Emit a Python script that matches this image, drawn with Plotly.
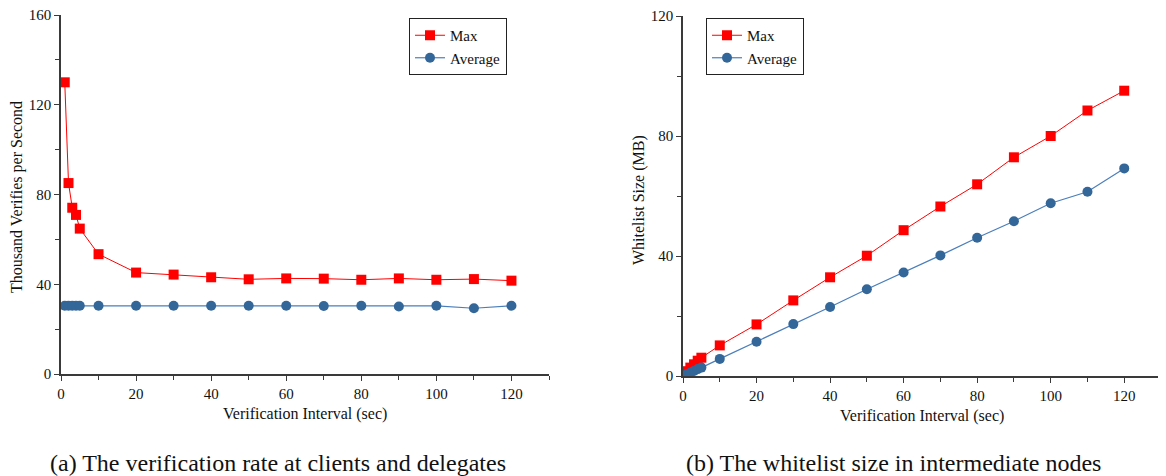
import plotly.graph_objects as go

# ---- data ----
interval = [1, 2, 3, 4, 5, 10, 20, 30, 40, 50, 60, 70, 80, 90, 100, 110, 120]

rate_max = [130.0, 85.1, 74.1, 70.9, 64.8, 53.4, 45.2, 44.3, 43.1, 42.2, 42.6, 42.5, 42.0, 42.6, 42.0, 42.3, 41.6]
rate_avg = [30.4, 30.4, 30.4, 30.4, 30.4, 30.4, 30.4, 30.4, 30.4, 30.4, 30.4, 30.3, 30.4, 30.1, 30.4, 29.3, 30.4]

wl_max = [1.6, 2.8, 3.9, 5.1, 6.1, 10.2, 17.2, 25.2, 32.9, 40.1, 48.6, 56.5, 63.9, 72.9, 80.0, 88.5, 95.1]
wl_avg = [0.6, 1.1, 1.7, 2.3, 2.8, 5.7, 11.4, 17.3, 23.0, 28.9, 34.5, 40.2, 46.1, 51.6, 57.6, 61.4, 69.2]

left_yticks = [0, 40, 80, 120, 160]
right_yticks = [0, 40, 80, 120]
xticks = [0, 20, 40, 60, 80, 100, 120]

series_names = ["Max", "Average"]
x_title = "Verification Interval (sec)"
left_ytitle = "Thousand Verifies per Second"
right_ytitle = "Whitelist Size (MB)"
captions = ["(a) The verification rate at clients and delegates",
            "(b) The whitelist size in intermediate nodes"]

RED = "#FF0000"
BLUE_M = "#336699"
BLUE_L = "#4A7EBB"
FONT = "Liberation Serif, Times New Roman, serif"
AXC = "#3a3a3a"

W, H = 1166, 476
OFF = 8  # page body margin


def px(x):
    return (x - OFF) / W


def py(y):
    return 1 - (y - OFF) / H


fig = go.Figure()


def add_pair(ymax, yavg, xa, ya, legend):
    fig.add_trace(go.Scatter(x=interval, y=ymax, name=series_names[0], mode="lines+markers",
                             line=dict(color=RED, width=1),
                             marker=dict(symbol="square", size=10, color=RED),
                             xaxis=xa, yaxis=ya, legend=legend))
    fig.add_trace(go.Scatter(x=interval, y=yavg, name=series_names[1], mode="lines+markers",
                             line=dict(color=BLUE_L, width=1.2),
                             marker=dict(symbol="circle", size=10, color=BLUE_M),
                             xaxis=xa, yaxis=ya, legend=legend))


add_pair(rate_max, rate_avg, "x", "y", "legend")
add_pair(wl_max, wl_avg, "x2", "y2", "legend2")


def xaxis(domain, anchor):
    return dict(domain=domain, anchor=anchor, range=[0, 130], tickvals=xticks, automargin=False,
                showgrid=False, zeroline=False, showline=True, linecolor=AXC, linewidth=1.5,
                ticks="outside", ticklen=5, tickwidth=1.2, tickcolor=AXC,
                ticklabeloverflow="allow",
                minor=dict(tickvals=[10, 30, 50, 70, 90, 110, 130], ticks="outside", ticklen=4,
                           tickwidth=1.2, tickcolor=AXC),
                tickfont=dict(family=FONT, size=15, color="#111"))


def yaxis(domain, anchor, rng, tv, minor):
    return dict(domain=domain, anchor=anchor, range=rng, tickvals=tv, automargin=False,
                showgrid=False, zeroline=False, showline=True, linecolor=AXC, linewidth=1.5,
                ticks="outside", ticklen=5, tickwidth=1.2, tickcolor=AXC,
                ticklabeloverflow="allow",
                minor=dict(tickvals=minor, ticks="outside", ticklen=4, tickwidth=1.2, tickcolor=AXC),
                tickfont=dict(family=FONT, size=15, color="#111"))


fig.update_layout(
    width=W, height=H, margin=dict(l=0, r=0, t=0, b=0, autoexpand=False),
    paper_bgcolor="white", plot_bgcolor="white",
    font=dict(family=FONT, color="#111"),
    xaxis=xaxis([px(61), px(549)], "y"),
    yaxis=yaxis([py(374), py(15)], "x", [0, 160], left_yticks, [20, 60, 100, 140]),
    xaxis2=xaxis([px(683), px(1161)], "y2"),
    yaxis2=yaxis([py(376), py(16)], "x2", [0, 120], right_yticks, [20, 60, 100]),
    legend=dict(x=px(409), y=py(18), xanchor="left", yanchor="top",
                bordercolor="#222", borderwidth=1, bgcolor="white",
                font=dict(family=FONT, size=15, color="#111"), tracegroupgap=0),
    legend2=dict(x=px(706), y=py(18), xanchor="left", yanchor="top",
                 bordercolor="#222", borderwidth=1, bgcolor="white",
                 font=dict(family=FONT, size=15, color="#111"), tracegroupgap=0),
    showlegend=True,
)

ann = [
    dict(x=px(305), y=py(414), text=x_title, font_size=16),
    dict(x=px(922), y=py(416), text=x_title, font_size=16),
    dict(x=px(17), y=py(197), text=left_ytitle, font_size=16, textangle=-90),
    dict(x=px(639), y=py(200), text=right_ytitle, font_size=16, textangle=-90),
    dict(x=px(278), y=py(463), text=captions[0], font_size=24),
    dict(x=px(893), y=py(463), text=captions[1], font_size=24),
]
for a in ann:
    fig.add_annotation(xref="paper", yref="paper", showarrow=False, xanchor="center", yanchor="middle",
                       font=dict(family=FONT, color="#111", size=a.pop("font_size")), **a)

fig.write_html("out.html")
